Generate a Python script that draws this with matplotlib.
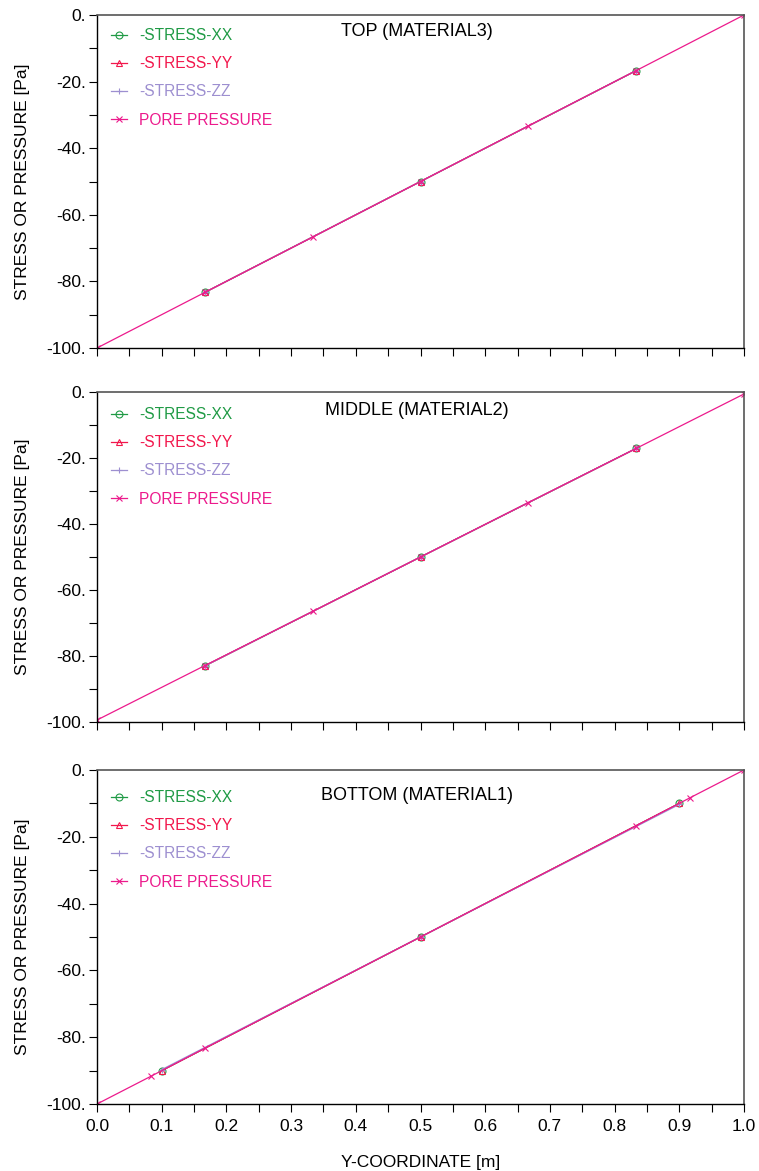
import matplotlib
matplotlib.use("Agg")
import matplotlib.pyplot as plt
from matplotlib.ticker import MultipleLocator, FuncFormatter

plt.rcParams["font.family"] = ["Liberation Sans", "DejaVu Sans"]

# -----------------------
# DATA
# -----------------------
titles = ["TOP (MATERIAL3)", "MIDDLE (MATERIAL2)", "BOTTOM (MATERIAL1)"]
series_names = ["-STRESS-XX", "-STRESS-YY", "-STRESS-ZZ", "PORE PRESSURE"]

top_stress_x = [0.1667, 0.5, 0.8333]
top_sxx = [-83.3, -50.0, -16.7]
top_syy = [-83.3, -50.0, -16.7]
top_szz = [-83.3, -50.0, -16.7]
top_pore_x = [0.0, 0.1667, 0.3333, 0.5, 0.6667, 0.8333, 1.0]
top_pore = [-100.0, -83.3, -66.7, -50.0, -33.3, -16.7, 0.0]

mid_stress_x = [0.1667, 0.5, 0.8333]
mid_sxx = [-83.0, -50.0, -17.1]
mid_syy = [-83.0, -50.0, -17.1]
mid_szz = [-83.0, -50.0, -17.1]
mid_pore_x = [0.0, 0.1667, 0.3333, 0.5, 0.6667, 0.8333, 1.0]
mid_pore = [-99.4, -82.9, -66.5, -50.0, -33.5, -17.1, -0.6]

bot_stress_x = [0.1, 0.5, 0.9]
bot_sxx = [-90.0, -50.0, -10.0]
bot_syy = [-90.0, -50.0, -10.0]
bot_szz = [-89.7, -50.0, -10.3]
bot_pore_x = [0.0, 0.0833, 0.1667, 0.5, 0.8333, 0.9167, 1.0]
bot_pore = [-100.0, -91.7, -83.3, -50.0, -16.7, -8.3, 0.0]

panels = [
    (top_stress_x, top_sxx, top_syy, top_szz, top_pore_x, top_pore),
    (mid_stress_x, mid_sxx, mid_syy, mid_szz, mid_pore_x, mid_pore),
    (bot_stress_x, bot_sxx, bot_syy, bot_szz, bot_pore_x, bot_pore),
]

colors = ["#1f9a45", "#f2174c", "#9d8fd0", "#ec1a8c"]
markers = ["o", "^", "+", "x"]

# -----------------------
# FIGURE
# -----------------------
fig = plt.figure(figsize=(7.59, 11.71), dpi=100)
W, H = 759.0, 1171.0
left, right = 97, 744
boxes = [(15, 348), (392, 722), (770, 1104)]
title_px = [16, 19, 26]     # title centre below axes top, pixels
legend_shift = [-1, 1, 6]   # legend shift downward, pixels

for i, ((top, bot), data, title) in enumerate(zip(boxes, panels, titles)):
    hpx = bot - top
    ax = fig.add_axes([left / W, 1 - bot / H, (right - left) / W, hpx / H])
    sx, sxx, syy, szz, px, pp = data
    ys = [sxx, syy, szz]
    handles = []
    for k in range(3):
        h, = ax.plot(sx, ys[k], color=colors[k], lw=0.9, marker=markers[k], ms=5,
                     mfc="none", mec=colors[k], mew=0.8, label=series_names[k])
        handles.append(h)
    h, = ax.plot(px, pp, color=colors[3], lw=0.9, marker="x", ms=5,
                 mec=colors[3], mew=0.8, label=series_names[3])
    handles.append(h)

    ax.set_xlim(0, 1)
    ax.set_ylim(-100, 0)
    ax.xaxis.set_major_locator(MultipleLocator(0.1))
    ax.xaxis.set_minor_locator(MultipleLocator(0.05))
    ax.yaxis.set_major_locator(MultipleLocator(20))
    ax.yaxis.set_minor_locator(MultipleLocator(10))
    ax.yaxis.set_major_formatter(FuncFormatter(lambda v, p: f"{int(round(v))}."))
    ax.tick_params(axis="both", which="both", direction="out", length=6,
                   width=0.8, labelsize=12.5, top=False, right=False, pad=2)
    if i < 2:
        ax.tick_params(axis="x", labelbottom=False)
    else:
        ax.tick_params(axis="x", pad=5)
        ax.set_xlabel("Y-COORDINATE [m]", fontsize=12.5, labelpad=15)
    ax.set_ylabel("STRESS OR PRESSURE [Pa]", fontsize=12.5, labelpad=12)

    for s in ["top", "right"]:
        ax.spines[s].set_color("#555555")
        ax.spines[s].set_linewidth(1.2)
    for s in ["left", "bottom"]:
        ax.spines[s].set_color("black")
        ax.spines[s].set_linewidth(1.0)

    ax.text(0.495, 1 - title_px[i] / hpx, title, transform=ax.transAxes,
            ha="center", va="center", fontsize=13, color="black")
    ax.legend(handles=handles, loc="upper left", frameon=False, fontsize=11.2,
              handlelength=1.0, numpoints=1, labelspacing=0.85,
              handletextpad=0.8, borderaxespad=0.5, borderpad=0.4,
              bbox_to_anchor=(0, 1 - legend_shift[i] / hpx),
              labelcolor="linecolor")

fig.savefig("out.png", dpi=100)
